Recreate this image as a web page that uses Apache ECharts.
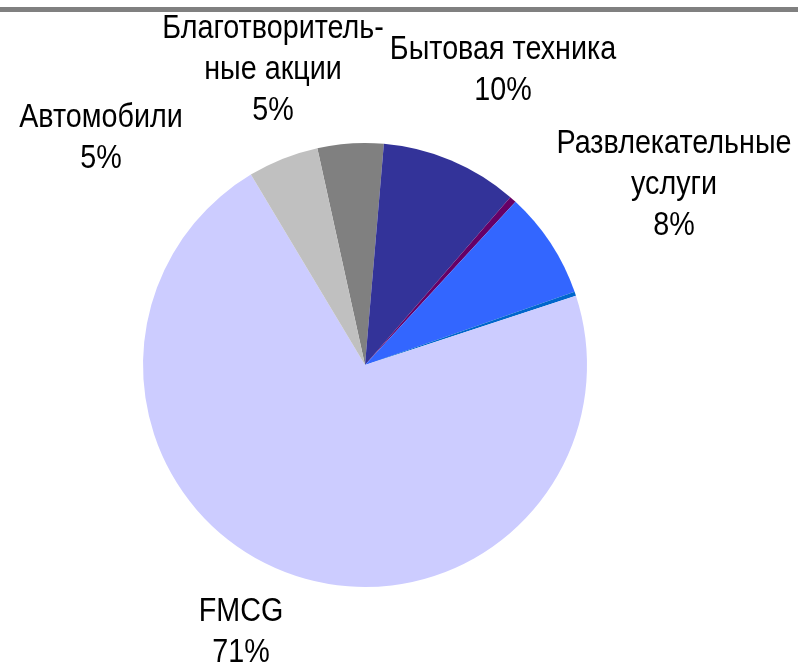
<!DOCTYPE html>
<html>
<head>
<meta charset="utf-8">
<script src="https://cdn.jsdelivr.net/npm/echarts@6/dist/echarts.min.js"></script>
<style>
  html, body { margin: 0; padding: 0; background: #fff; }
  #chart { width: 798px; height: 664px; }
</style>
</head>
<body>
<div id="chart"></div>
<script>
// категории и доли (%), по часовой стрелке начиная с "Благотворительные акции"
const categories = [
  "Благотворитель-\nные акции",
  "Бытовая техника",
  "Прочее",
  "Развлекательные\nуслуги",
  "Другое",
  "FMCG",
  "Автомобили",
];
const values = [4.8, 10.0, 0.5, 7.8, 0.3, 71.45, 5.15];
const colors = ["#808080", "#333399", "#660066", "#3366ff", "#0066cc", "#ccccff", "#c0c0c0"];
const showLabel = [true, true, false, true, false, true, true];
// где стоят подписи (центр блока текста)
const labelPos = [
  [273, 70],
  [503, 70],
  null,
  [674, 185],
  null,
  [241, 632],
  [101, 138],
];

const total = values.reduce((a, b) => a + b, 0);

// узкий шрифт (как Arial Narrow) не установлен, поэтому сжимаем текст по горизонтали
const labels = [];
categories.forEach((c, i) => {
  if (!showLabel[i]) return;
  labels.push({
    type: "text",
    x: labelPos[i][0],
    y: labelPos[i][1],
    scaleX: 0.845,
    silent: true,
    style: {
      text: c + "\n" + Math.round((values[i] / total) * 100) + "%",
      fill: "#000",
      font: "34px 'Liberation Sans', Arial, sans-serif",
      lineHeight: 41,
      align: "center",
      verticalAlign: "middle",
    },
  });
});

const chart = echarts.init(document.getElementById("chart"));
const option = {
  animation: false,
  graphic: [
    {
      type: "rect",
      shape: { x: 0, y: 7, width: 798, height: 5 },
      style: { fill: "#808080" },
    },
  ].concat(labels),
  series: [
    {
      type: "pie",
      center: [365, 365],
      radius: 222,
      startAngle: 102.4,
      clockwise: true,
      minAngle: 0,
      itemStyle: { borderWidth: 0 },
      emphasis: { disabled: true },
      label: { show: false },
      labelLine: { show: false },
      data: categories.map((c, i) => ({
        name: c,
        value: values[i],
        itemStyle: { color: colors[i] },
      })),
    },
  ],
};
chart.setOption(option);
</script>
</body>
</html>
